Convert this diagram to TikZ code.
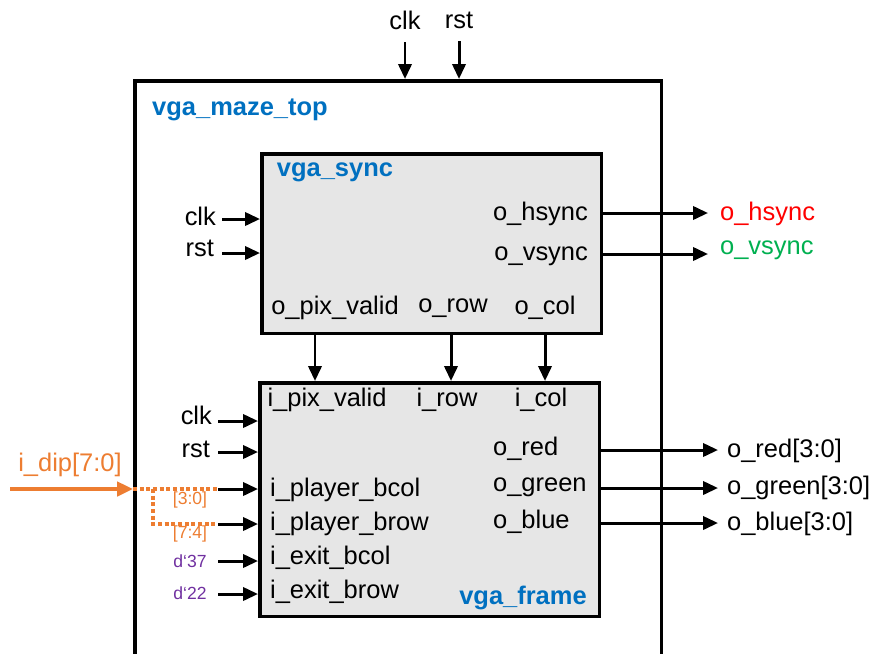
\documentclass[tikz,border=0pt]{standalone}
\usepackage{fontspec}
\setmainfont{Liberation Sans}
\usetikzlibrary{arrows.meta}
\definecolor{hdlblue}{HTML}{0070C0}
\definecolor{hdlred}{HTML}{FF0000}
\definecolor{hdlgreen}{HTML}{00B050}
\definecolor{hdlorange}{HTML}{ED7D31}
\definecolor{hdlpurple}{HTML}{7030A0}
\definecolor{blkfill}{HTML}{E6E6E6}
\tikzset{
  blk/.style={draw, line width=2pt, anchor=north west, inner sep=0pt},
  lbl/.style={inner sep=1pt, font=\fontsize{14.5}{16}\selectfont},
  title/.style={inner sep=1pt, font=\fontsize{14.5}{16}\selectfont\bfseries, text=hdlblue},
  small/.style={inner sep=1pt, font=\fontsize{10}{12}\selectfont},
  sig/.style={line width=1.7pt, -{Triangle[length=8.5pt,width=7.5pt]}},
  dip/.style={line width=2.2pt, draw=hdlorange, dash pattern=on 2.2pt off 1.6pt},
}
\begin{document}
\begin{tikzpicture}[x=0.02cm, y=-0.02cm]
\useasboundingbox (0,0) rectangle (875,653);
\clip (0,0) rectangle (875,653);
% blocks
\node[blk, minimum width=10.54cm, minimum height=12.6cm] (top) at (133,79){};
\node[blk, fill=blkfill, minimum width=6.8cm, minimum height=3.6cm] (sync) at (260,152){};
\node[blk, fill=blkfill, minimum width=6.8cm, minimum height=4.68cm] (frame) at (258,381){};
\node[title] (ttop) at (240,110){vga\_maze\_top};
\node[title] (tsync) at (335,172){vga\_sync};
\node[title] (tframe) at (523,598){vga\_frame};
% top level clk/rst
\node[lbl] (clkT) at (405,20){clk};
\node[lbl] (rstT) at (459,20){rst};
\draw[sig, shorten <=6pt] (clkT.south) -- (clkT.south |- top.north);
\draw[sig, shorten <=6pt] (rstT.south) -- (rstT.south |- top.north);
% vga_sync ports
\node[lbl, anchor=east] (sclk) at (218,216){clk};
\node[lbl, anchor=east] (srst) at (216,248){rst};
\draw[sig] (222,219) -- (sync.west |- 0,219);
\draw[sig] (222,253) -- (sync.west |- 0,253);
\node[lbl, anchor=east] (ohs) at (590,214){o\_hsync};
\node[lbl, anchor=east] (ovs) at (590,256){o\_vsync};
\node[lbl] (opv) at (335,308){o\_pix\_valid};
\node[lbl] (orow) at (453,308){o\_row};
\node[lbl] (ocol) at (545,308){o\_col};
\node[lbl, anchor=west, text=hdlred] (hsync) at (718,214){o\_hsync};
\node[lbl, anchor=west, text=hdlgreen] (vsync) at (718,250){o\_vsync};
\draw[sig] (sync.east |- 0,213) -- (708,213);
\draw[sig] (sync.east |- 0,254) -- (708,254);
% sync -> frame
\coordinate (pv) at (315,0);
\coordinate (rw) at (451,0);
\coordinate (cl) at (545,0);
\draw[sig] (pv |- sync.south) -- (pv |- frame.north);
\draw[sig] (rw |- sync.south) -- (rw |- frame.north);
\draw[sig] (cl |- sync.south) -- (cl |- frame.north);
% vga_frame ports
\node[lbl] (ipv) at (327,400){i\_pix\_valid};
\node[lbl] (irow) at (447,400){i\_row};
\node[lbl] (icol) at (541,400){i\_col};
\node[lbl, anchor=east] (fclk) at (214,415){clk};
\node[lbl, anchor=east] (frst) at (212,449){rst};
\draw[sig] (218,421) -- (frame.west |- 0,421);
\draw[sig] (218,452) -- (frame.west |- 0,452);
\node[lbl, anchor=west] (ibcol) at (268,490){i\_player\_bcol};
\node[lbl, anchor=west] (ibrow) at (268,524){i\_player\_brow};
\node[lbl, anchor=west] (iebcol) at (268,558){i\_exit\_bcol};
\node[lbl, anchor=west] (iebrow) at (268,592){i\_exit\_brow};
\coordinate (bcol) at (218,489);
\coordinate (brow) at (218,524);
\draw[sig] (bcol) -- (bcol -| frame.west);
\draw[sig] (brow) -- (brow -| frame.west);
\node[small, text=hdlpurple] (d37) at (190,561){d‘37};
\node[small, text=hdlpurple] (d22) at (190,593){d‘22};
\draw[sig] (218,561) -- (frame.west |- 0,561);
\draw[sig] (218,594) -- (frame.west |- 0,594);
\node[lbl, anchor=west] (ored) at (491,449){o\_red};
\node[lbl, anchor=west] (ogreen) at (491,487){o\_green};
\node[lbl, anchor=west] (oblue) at (491,522){o\_blue};
\node[lbl, anchor=west] (red) at (725,451){o\_red[3:0]};
\node[lbl, anchor=west] (green) at (725,488){o\_green[3:0]};
\node[lbl, anchor=west] (blue) at (725,524){o\_blue[3:0]};
\draw[sig] (frame.east |- 0,450) -- (718,450);
\draw[sig] (frame.east |- 0,488) -- (718,488);
\draw[sig] (frame.east |- 0,523) -- (718,523);
% i_dip split
\node[lbl, text=hdlorange] (dip) at (70,465){i\_dip[7:0]};
\coordinate (dipin) at (10,489);
\draw[line width=2.2pt, draw=hdlorange, -{Triangle[length=9pt,width=8pt]}] (dipin) -- (dipin -| top.west);
\draw[dip] (dipin -| top.west) -- (bcol);
\draw[dip] (153,489) -- (153,524) -- (brow);
\node[small, text=hdlorange] (lo) at (190,500){[3:0]};
\node[small, text=hdlorange] (hi) at (190,534){[7:4]};
\end{tikzpicture}
\end{document}
